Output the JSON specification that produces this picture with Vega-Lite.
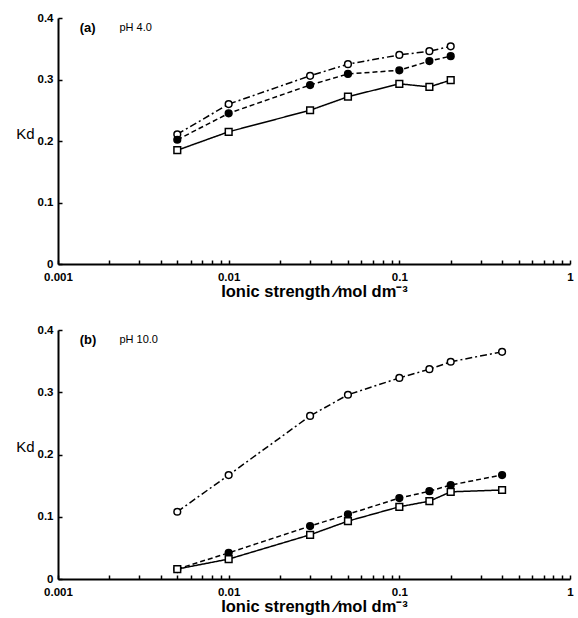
{
  "$schema": "https://vega.github.io/schema/vega-lite/v6.json",
  "background": "white",
  "padding": {"left": 15, "top": 12, "right": 5, "bottom": 5},
  "spacing": 24,
  "config": {
    "view": {"stroke": null},
    "font": "Liberation Sans",
    "axis": {
      "domainColor": "black", "domainWidth": 2,
      "labelColor": "black", "labelFont": "Liberation Sans", "labelFontWeight": "bold", "labelFontSize": 11.5,
      "titleColor": "black", "titleFont": "Liberation Sans", "titleFontWeight": "bold", "grid": false
    }
  },
  "datasets": {
    "pts": [
      {"panel": "a", "series": "open circle", "I": 0.005, "Kd": 0.211},
      {"panel": "a", "series": "open circle", "I": 0.01, "Kd": 0.260},
      {"panel": "a", "series": "open circle", "I": 0.03, "Kd": 0.306},
      {"panel": "a", "series": "open circle", "I": 0.05, "Kd": 0.325},
      {"panel": "a", "series": "open circle", "I": 0.1, "Kd": 0.340},
      {"panel": "a", "series": "open circle", "I": 0.15, "Kd": 0.346},
      {"panel": "a", "series": "open circle", "I": 0.2, "Kd": 0.354},
      {"panel": "a", "series": "filled circle", "I": 0.005, "Kd": 0.202},
      {"panel": "a", "series": "filled circle", "I": 0.01, "Kd": 0.245},
      {"panel": "a", "series": "filled circle", "I": 0.03, "Kd": 0.291},
      {"panel": "a", "series": "filled circle", "I": 0.05, "Kd": 0.309},
      {"panel": "a", "series": "filled circle", "I": 0.1, "Kd": 0.315},
      {"panel": "a", "series": "filled circle", "I": 0.15, "Kd": 0.330},
      {"panel": "a", "series": "filled circle", "I": 0.2, "Kd": 0.338},
      {"panel": "a", "series": "square", "I": 0.005, "Kd": 0.185},
      {"panel": "a", "series": "square", "I": 0.01, "Kd": 0.215},
      {"panel": "a", "series": "square", "I": 0.03, "Kd": 0.250},
      {"panel": "a", "series": "square", "I": 0.05, "Kd": 0.272},
      {"panel": "a", "series": "square", "I": 0.1, "Kd": 0.293},
      {"panel": "a", "series": "square", "I": 0.15, "Kd": 0.288},
      {"panel": "a", "series": "square", "I": 0.2, "Kd": 0.299},
      {"panel": "b", "series": "open circle", "I": 0.005, "Kd": 0.108},
      {"panel": "b", "series": "open circle", "I": 0.01, "Kd": 0.167},
      {"panel": "b", "series": "open circle", "I": 0.03, "Kd": 0.262},
      {"panel": "b", "series": "open circle", "I": 0.05, "Kd": 0.296},
      {"panel": "b", "series": "open circle", "I": 0.1, "Kd": 0.323},
      {"panel": "b", "series": "open circle", "I": 0.15, "Kd": 0.337},
      {"panel": "b", "series": "open circle", "I": 0.2, "Kd": 0.349},
      {"panel": "b", "series": "open circle", "I": 0.4, "Kd": 0.365},
      {"panel": "b", "series": "filled circle", "I": 0.005, "Kd": 0.016},
      {"panel": "b", "series": "filled circle", "I": 0.01, "Kd": 0.042},
      {"panel": "b", "series": "filled circle", "I": 0.03, "Kd": 0.085},
      {"panel": "b", "series": "filled circle", "I": 0.05, "Kd": 0.104},
      {"panel": "b", "series": "filled circle", "I": 0.1, "Kd": 0.130},
      {"panel": "b", "series": "filled circle", "I": 0.15, "Kd": 0.141},
      {"panel": "b", "series": "filled circle", "I": 0.2, "Kd": 0.151},
      {"panel": "b", "series": "filled circle", "I": 0.4, "Kd": 0.167},
      {"panel": "b", "series": "square", "I": 0.005, "Kd": 0.016},
      {"panel": "b", "series": "square", "I": 0.01, "Kd": 0.032},
      {"panel": "b", "series": "square", "I": 0.03, "Kd": 0.071},
      {"panel": "b", "series": "square", "I": 0.05, "Kd": 0.093},
      {"panel": "b", "series": "square", "I": 0.1, "Kd": 0.116},
      {"panel": "b", "series": "square", "I": 0.15, "Kd": 0.125},
      {"panel": "b", "series": "square", "I": 0.2, "Kd": 0.140},
      {"panel": "b", "series": "square", "I": 0.4, "Kd": 0.143}
    ],
    "labels": [
      {"panel": "a", "I": 0.00134, "Kd": 0.384, "tag": "(a)", "cond": "pH 4.0", "I2": 0.00229},
      {"panel": "b", "I": 0.00134, "Kd": 0.384, "tag": "(b)", "cond": "pH 10.0", "I2": 0.00229}
    ]
  },
  "vconcat": [
    {
      "width": 512, "height": 246,
      "layer": [
        {
          "data": {"name": "pts"},
          "transform": [{"filter": "datum.panel == 'a'"}],
          "mark": {"type": "line", "color": "black", "strokeWidth": 1.5},
          "encoding": {
            "x": {"field": "I", "type": "quantitative", "scale": {"type": "log", "domain": [0.001, 1]},
              "axis": {"title": "Ionic strength ∕mol dm⁻³", "titleFontSize": 16.5, "titlePadding": 1,
                "values": [0.001,0.002,0.003,0.004,0.005,0.006,0.007,0.008,0.009,0.01,0.02,0.03,0.04,0.05,0.06,0.07,0.08,0.09,0.1,0.2,0.3,0.4,0.5,0.6,0.7,0.8,0.9,1],
                "labelExpr": "indexof([0.001,0.01,0.1,1], datum.value) >= 0 ? (datum.value == 1 ? '1' : '' + datum.value) : ''",
                "ticks": true, "tickColor": "black", "tickWidth": 1.5, "tickOpacity": 1, "tickSize": -4, "labelPadding": 11, "labelFlush": false}},
            "y": {"field": "Kd", "type": "quantitative", "scale": {"domain": [0, 0.4]},
              "axis": {"title": "Kd", "titleAngle": 0, "titleFontSize": 15, "titleFontWeight": "normal", "titlePadding": 12,
                "values": [0, 0.1, 0.2, 0.3, 0.4], "ticks": true, "tickColor": "black", "tickWidth": 1.5, "tickOpacity": 1, "tickSize": -4, "labelPadding": 9,
                "labelExpr": "datum.value == 0 ? '0' : format(datum.value, '.1f')"}},
            "strokeDash": {"field": "series", "type": "nominal",
              "scale": {"domain": ["open circle", "filled circle", "square"], "range": [[7, 3, 2, 3], [5, 3], [1, 0]]}, "legend": null}
          }
        },
        {
          "data": {"name": "pts"},
          "transform": [{"filter": "datum.panel == 'a'"}],
          "mark": {"type": "point", "stroke": "black", "strokeWidth": 1.5, "size": 45, "opacity": 1},
          "encoding": {
            "x": {"field": "I", "type": "quantitative"},
            "y": {"field": "Kd", "type": "quantitative"},
            "shape": {"field": "series", "type": "nominal", "scale": {"domain": ["open circle", "filled circle", "square"], "range": ["circle", "circle", "square"]}, "legend": null},
            "fill": {"field": "series", "type": "nominal", "scale": {"domain": ["open circle", "filled circle", "square"], "range": ["white", "black", "white"]}, "legend": null}
          }
        },
        {
          "data": {"name": "labels"},
          "transform": [{"filter": "datum.panel == 'a'"}],
          "mark": {"type": "text", "align": "left", "baseline": "middle", "fontSize": 13, "fontWeight": "bold", "color": "black"},
          "encoding": {"x": {"field": "I", "type": "quantitative"}, "y": {"field": "Kd", "type": "quantitative"}, "text": {"field": "tag"}}
        },
        {
          "data": {"name": "labels"},
          "transform": [{"filter": "datum.panel == 'a'"}],
          "mark": {"type": "text", "align": "left", "baseline": "middle", "fontSize": 11, "color": "black"},
          "encoding": {"x": {"field": "I2", "type": "quantitative"}, "y": {"field": "Kd", "type": "quantitative"}, "text": {"field": "cond"}}
        }
      ]
    },
    {
      "width": 512, "height": 249,
      "layer": [
        {
          "data": {"name": "pts"},
          "transform": [{"filter": "datum.panel == 'b'"}],
          "mark": {"type": "line", "color": "black", "strokeWidth": 1.5},
          "encoding": {
            "x": {"field": "I", "type": "quantitative", "scale": {"type": "log", "domain": [0.001, 1]},
              "axis": {"title": "Ionic strength ∕mol dm⁻³", "titleFontSize": 16.5, "titlePadding": 1,
                "values": [0.001,0.002,0.003,0.004,0.005,0.006,0.007,0.008,0.009,0.01,0.02,0.03,0.04,0.05,0.06,0.07,0.08,0.09,0.1,0.2,0.3,0.4,0.5,0.6,0.7,0.8,0.9,1],
                "labelExpr": "indexof([0.001,0.01,0.1,1], datum.value) >= 0 ? (datum.value == 1 ? '1' : '' + datum.value) : ''",
                "ticks": true, "tickColor": "black", "tickWidth": 1.5, "tickOpacity": 1, "tickSize": -4, "labelPadding": 11, "labelFlush": false}},
            "y": {"field": "Kd", "type": "quantitative", "scale": {"domain": [0, 0.4]},
              "axis": {"title": "Kd", "titleAngle": 0, "titleFontSize": 15, "titleFontWeight": "normal", "titlePadding": 12,
                "values": [0, 0.1, 0.2, 0.3, 0.4], "ticks": true, "tickColor": "black", "tickWidth": 1.5, "tickOpacity": 1, "tickSize": -4, "labelPadding": 9,
                "labelExpr": "datum.value == 0 ? '0' : format(datum.value, '.1f')"}},
            "strokeDash": {"field": "series", "type": "nominal",
              "scale": {"domain": ["open circle", "filled circle", "square"], "range": [[7, 3, 2, 3], [5, 3], [1, 0]]}, "legend": null}
          }
        },
        {
          "data": {"name": "pts"},
          "transform": [{"filter": "datum.panel == 'b'"}],
          "mark": {"type": "point", "stroke": "black", "strokeWidth": 1.5, "size": 45, "opacity": 1},
          "encoding": {
            "x": {"field": "I", "type": "quantitative"},
            "y": {"field": "Kd", "type": "quantitative"},
            "shape": {"field": "series", "type": "nominal", "scale": {"domain": ["open circle", "filled circle", "square"], "range": ["circle", "circle", "square"]}, "legend": null},
            "fill": {"field": "series", "type": "nominal", "scale": {"domain": ["open circle", "filled circle", "square"], "range": ["white", "black", "white"]}, "legend": null}
          }
        },
        {
          "data": {"name": "labels"},
          "transform": [{"filter": "datum.panel == 'b'"}],
          "mark": {"type": "text", "align": "left", "baseline": "middle", "fontSize": 13, "fontWeight": "bold", "color": "black"},
          "encoding": {"x": {"field": "I", "type": "quantitative"}, "y": {"field": "Kd", "type": "quantitative"}, "text": {"field": "tag"}}
        },
        {
          "data": {"name": "labels"},
          "transform": [{"filter": "datum.panel == 'b'"}],
          "mark": {"type": "text", "align": "left", "baseline": "middle", "fontSize": 11, "color": "black"},
          "encoding": {"x": {"field": "I2", "type": "quantitative"}, "y": {"field": "Kd", "type": "quantitative"}, "text": {"field": "cond"}}
        }
      ]
    }
  ]
}
